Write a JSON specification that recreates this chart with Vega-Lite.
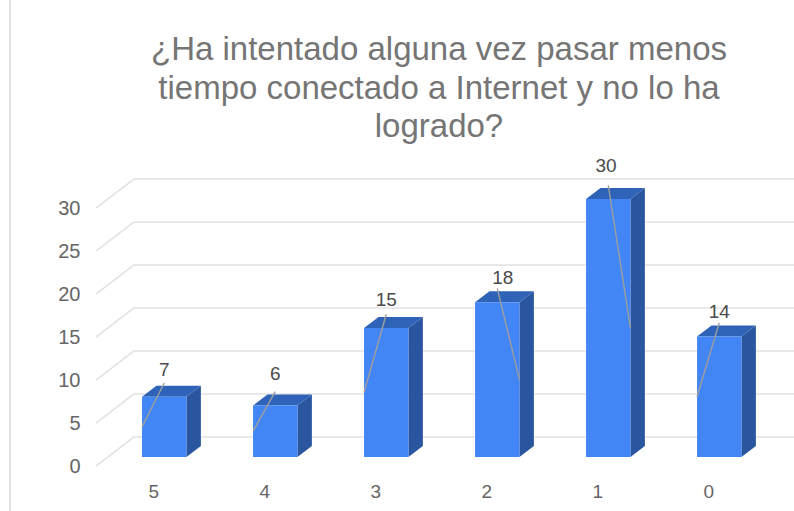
{
"$schema":"https://vega.github.io/schema/vega-lite/v6.json",
"width":794,"height":511,"padding":0,"autosize":{"type":"none"},"background":"white",
"config":{"view":{"stroke":null},"font":"Liberation Sans"},
"title":{"text":["¿Ha intentado alguna vez pasar menos","tiempo conectado a Internet y no lo ha","logrado?"],"anchor":"middle","frame":"group","fontSize":33,"fontWeight":"normal","font":"Liberation Sans","color":"#757575","lineHeight":38.5,"offset":-145,"dx":42},
"datasets":{
"bars":[{"respuesta":5,"personas":7},{"respuesta":4,"personas":6},{"respuesta":3,"personas":15},{"respuesta":2,"personas":18},{"respuesta":1,"personas":30},{"respuesta":0,"personas":14}],
"ticks":[{"t":0},{"t":5},{"t":10},{"t":15},{"t":20},{"t":25},{"t":30}]
},
"layer":[
{"data":{"name":"ticks"},"transform":[{"calculate":"datum.t+2.33","as":"yb"},{"calculate":"5.2725","as":"x0"},{"calculate":"-0.6734","as":"x1"}],
 "mark":{"type":"rule","color":"#e2e2e2","strokeWidth":1.6},
 "encoding":{
  "x":{"field":"x0","type":"quantitative","scale":{"domain":[6.4797,-0.6734],"nice":false,"zero":false},
       "axis":{"values":[5,4,3,2,1,0],"format":"d","title":null,"orient":"bottom","offset":-29,"domain":false,"ticks":false,"grid":false,"labelPadding":0,"labelOffset":-11,"labelFontSize":19,"labelColor":"#666666","labelFont":"Liberation Sans"}},
  "x2":{"field":"x1"},
  "y":{"field":"yb","type":"quantitative","scale":{"domain":[-6.279,53.14],"nice":false,"zero":false},
       "axis":{"values":[0,5,10,15,20,25,30],"format":"d","title":null,"orient":"left","offset":-84,"domain":false,"ticks":false,"grid":false,"labelPadding":4,"labelOffset":9,"labelFontSize":20,"labelColor":"#666666","labelFont":"Liberation Sans"}}
 }},
{"data":{"name":"ticks"},"transform":[{"calculate":"datum.t+2.33","as":"yb"},{"calculate":"datum.t-1.05","as":"yf"},{"calculate":"5.2725","as":"x0"},{"calculate":"5.6149","as":"x1"}],
 "mark":{"type":"rule","color":"#e2e2e2","strokeWidth":1.6},
 "encoding":{"x":{"field":"x0","type":"quantitative"},"x2":{"field":"x1"},"y":{"field":"yb","type":"quantitative"},"y2":{"field":"yf"}}},
{"data":{"name":"ticks"},"transform":[{"filter":"datum.t==0"}],"mark":{"type":"rule","color":"#dcdcdc","strokeWidth":1.6},"encoding":{"x":{"datum":6.3896,"type":"quantitative"}}},
{"data":{"name":"bars"},"transform":[{"calculate":"[0,1]","as":"k"},{"flatten":["k"]},{"calculate":"datum.respuesta-0.2-0.13*datum.k","as":"xs"},{"calculate":"1.28*datum.k","as":"y0"},{"calculate":"datum.personas+1.28*datum.k","as":"y1"}],
 "mark":{"type":"area","color":"#2a559f","opacity":1},
 "encoding":{"x":{"field":"xs","type":"quantitative"},"y":{"field":"y0","type":"quantitative"},"y2":{"field":"y1"},"detail":{"field":"respuesta"}}},
{"data":{"name":"bars"},"transform":[{"calculate":"[0,1,2,3]","as":"k"},{"flatten":["k"]},{"calculate":"datum.respuesta+[0.2,0.07,-0.2,-0.33][datum.k]","as":"xs"},{"calculate":"datum.personas+[0,0,0,1.28][datum.k]","as":"y0"},{"calculate":"datum.personas+[0,1.28,1.28,1.28][datum.k]","as":"y1"}],
 "mark":{"type":"area","color":"#2e63b8","opacity":1},
 "encoding":{"x":{"field":"xs","type":"quantitative"},"y":{"field":"y0","type":"quantitative"},"y2":{"field":"y1"},"detail":{"field":"respuesta"}}},
{"data":{"name":"bars"},"transform":[{"calculate":"datum.respuesta+0.2","as":"xl"},{"calculate":"datum.respuesta-0.2","as":"xr"}],
 "mark":{"type":"rect","color":"#4285f4"},
 "encoding":{"x":{"field":"xl","type":"quantitative"},"x2":{"field":"xr"},"y":{"field":"personas","type":"quantitative"},"y2":{"datum":0}}},
{"data":{"name":"bars"},"transform":[{"calculate":"datum.personas+1.6","as":"ys"},{"calculate":"datum.personas/2","as":"ye"},{"calculate":"datum.respuesta+(datum.personas>=18?-0.2:0.2)","as":"xe"}],
 "mark":{"type":"rule","color":"#9e9e9e","strokeWidth":1.4},
 "encoding":{"x":{"field":"respuesta","type":"quantitative"},"x2":{"field":"xe"},"y":{"field":"ys","type":"quantitative"},"y2":{"field":"ye"}}},
{"data":{"name":"bars"},"transform":[{"calculate":"datum.personas+[2.9,3.8,2.8,3.25,3.65,3.1][datum.respuesta]","as":"yl"},{"calculate":"datum.respuesta+[0,0.02,-0.05,0,0,0][datum.respuesta]","as":"xt"}],
 "mark":{"type":"text","fontSize":19,"color":"#4a4a4a","font":"Liberation Sans","baseline":"middle","align":"center"},
 "encoding":{"x":{"field":"xt","type":"quantitative"},"y":{"field":"yl","type":"quantitative"},"text":{"field":"personas","type":"quantitative"}}}
]
}
